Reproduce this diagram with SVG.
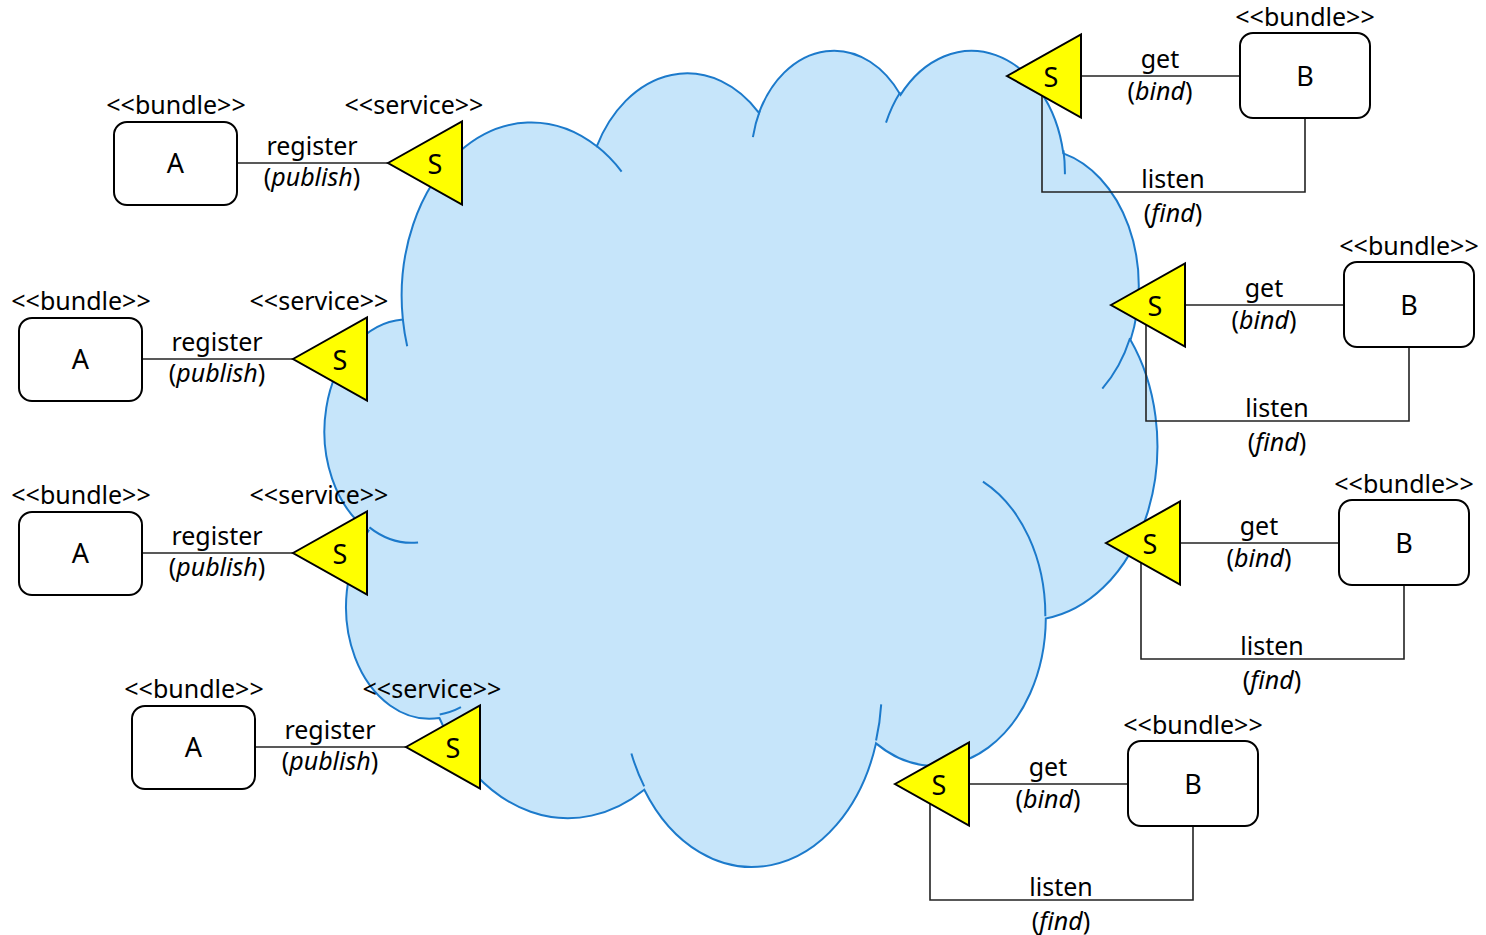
<svg xmlns="http://www.w3.org/2000/svg" width="1486" height="935" viewBox="0 0 1486 935">
<style>
text{font-family:"Noto Sans","Open Sans","Liberation Sans",sans-serif;fill:#000;text-anchor:middle}
.lbl{font-size:25px}
.big{font-size:27px}
.it{font-style:italic}
.cloud{fill:#c6e5fa;stroke:#1c7acb;stroke-width:2}
.arc{fill:none;stroke:#1c7acb;stroke-width:2}
.conn{fill:none;stroke:#222;stroke-width:1.6}
.box{fill:#fff;stroke:#000;stroke-width:2}
.tri{fill:#ffff00;stroke:#000;stroke-width:2;stroke-linejoin:miter}
</style>
<g id="cloud">
<path class="cloud" d="M402.84,319.44 A129.59,173.59 0 0 1 596.76,146.27 A102.34,137.27 0 0 1 758.95,112.86 A83.76,112.29 0 0 1 900.51,94.88 A93.21,124.57 0 0 1 1063.34,153.34 A102.34,137.38 0 0 1 1130.51,340.04 A130.01,174.16 0 0 1 1045.80,618.52 A111.01,148.60 0 0 1 876.00,743.38 A129.57,174.06 0 0 1 644.28,789.70 A148.15,199.15 0 0 1 439.41,718.01 A83.67,111.79 0 0 1 368.55,530.63 A83.38,112.29 0 0 1 402.84,319.44 Z"/>
<path class="arc" d="M418.06,542.46 A83.38,112.29 0 0 1 369.44,527.41 M460.95,707.21 A83.67,111.79 0 0 1 439.68,714.42 M644.21,786.37 A129.57,174.06 0 0 1 631.39,753.48 M881.19,704.41 A129.57,174.06 0 0 1 876.07,740.47 M982.94,481.58 A111.01,148.60 0 0 1 1045.33,616.36 M1130.10,338.02 A102.34,137.38 0 0 1 1102.31,388.57 M1063.44,150.49 A93.21,124.57 0 0 1 1064.91,174.36 M886.01,122.65 A93.21,124.57 0 0 1 900.24,92.21 M752.89,137.16 A83.76,112.29 0 0 1 759.78,110.91 M596.66,146.07 A129.59,173.59 0 0 1 621.62,171.56 M407.20,346.24 A129.59,173.59 0 0 1 402.85,319.45"/>
</g>
<g id="connectors">
<path class="conn" d="M237,163 H388"/>
<path class="conn" d="M142,359 H293"/>
<path class="conn" d="M142,553 H293"/>
<path class="conn" d="M255,747 H406"/>
<path class="conn" d="M1081,76 H1240"/>
<path class="conn" d="M1042,76 V192 H1305 V118"/>
<path class="conn" d="M1185,305 H1344"/>
<path class="conn" d="M1146,305 V421 H1409 V347"/>
<path class="conn" d="M1180,543 H1339"/>
<path class="conn" d="M1141,543 V659 H1404 V585"/>
<path class="conn" d="M969,784 H1128"/>
<path class="conn" d="M930,784 V900 H1193 V826"/>
<text class="lbl" x="312" y="155">register</text>
<text class="lbl" x="312" y="186">(<tspan class="it">publish</tspan>)</text>
<text class="lbl" x="217" y="351">register</text>
<text class="lbl" x="217" y="382">(<tspan class="it">publish</tspan>)</text>
<text class="lbl" x="217" y="545">register</text>
<text class="lbl" x="217" y="576">(<tspan class="it">publish</tspan>)</text>
<text class="lbl" x="330" y="739">register</text>
<text class="lbl" x="330" y="770">(<tspan class="it">publish</tspan>)</text>
<text class="lbl" x="1160" y="68">get</text>
<text class="lbl" x="1160" y="100">(<tspan class="it">bind</tspan>)</text>
<text class="lbl" x="1173" y="188">listen</text>
<text class="lbl" x="1173" y="222">(<tspan class="it">find</tspan>)</text>
<text class="lbl" x="1264" y="297">get</text>
<text class="lbl" x="1264" y="329">(<tspan class="it">bind</tspan>)</text>
<text class="lbl" x="1277" y="417">listen</text>
<text class="lbl" x="1277" y="451">(<tspan class="it">find</tspan>)</text>
<text class="lbl" x="1259" y="535">get</text>
<text class="lbl" x="1259" y="567">(<tspan class="it">bind</tspan>)</text>
<text class="lbl" x="1272" y="655">listen</text>
<text class="lbl" x="1272" y="689">(<tspan class="it">find</tspan>)</text>
<text class="lbl" x="1048" y="776">get</text>
<text class="lbl" x="1048" y="808">(<tspan class="it">bind</tspan>)</text>
<text class="lbl" x="1061" y="896">listen</text>
<text class="lbl" x="1061" y="930">(<tspan class="it">find</tspan>)</text>
</g>
<g id="bundleA1"><rect class="box" x="114" y="122" width="123" height="83" rx="13"/><text class="big" x="175.5" y="173">A</text><text class="lbl" x="176" y="114">&lt;&lt;bundle&gt;&gt;</text></g>
<g id="serviceA1"><polygon class="tri" points="388,163 462,121.5 462,204.5"/><text class="big" x="435" y="174">S</text><text class="lbl" x="414" y="114">&lt;&lt;service&gt;&gt;</text></g>
<g id="bundleA2"><rect class="box" x="19" y="318" width="123" height="83" rx="13"/><text class="big" x="80.5" y="369">A</text><text class="lbl" x="81" y="310">&lt;&lt;bundle&gt;&gt;</text></g>
<g id="serviceA2"><polygon class="tri" points="293,359 367,317.5 367,400.5"/><text class="big" x="340" y="370">S</text><text class="lbl" x="319" y="310">&lt;&lt;service&gt;&gt;</text></g>
<g id="bundleA3"><rect class="box" x="19" y="512" width="123" height="83" rx="13"/><text class="big" x="80.5" y="563">A</text><text class="lbl" x="81" y="504">&lt;&lt;bundle&gt;&gt;</text></g>
<g id="serviceA3"><polygon class="tri" points="293,553 367,511.5 367,594.5"/><text class="big" x="340" y="564">S</text><text class="lbl" x="319" y="504">&lt;&lt;service&gt;&gt;</text></g>
<g id="bundleA4"><rect class="box" x="132" y="706" width="123" height="83" rx="13"/><text class="big" x="193.5" y="757">A</text><text class="lbl" x="194" y="698">&lt;&lt;bundle&gt;&gt;</text></g>
<g id="serviceA4"><polygon class="tri" points="406,747 480,705.5 480,788.5"/><text class="big" x="453" y="758">S</text><text class="lbl" x="432" y="698">&lt;&lt;service&gt;&gt;</text></g>
<g id="serviceB1"><polygon class="tri" points="1007,76 1081,34.5 1081,117.5"/><text class="big" x="1051" y="87">S</text></g>
<g id="bundleB1"><rect class="box" x="1240" y="33" width="130" height="85" rx="13"/><text class="big" x="1305" y="86">B</text><text class="lbl" x="1305" y="26">&lt;&lt;bundle&gt;&gt;</text></g>
<g id="serviceB2"><polygon class="tri" points="1111,305 1185,263.5 1185,346.5"/><text class="big" x="1155" y="316">S</text></g>
<g id="bundleB2"><rect class="box" x="1344" y="262" width="130" height="85" rx="13"/><text class="big" x="1409" y="315">B</text><text class="lbl" x="1409" y="255">&lt;&lt;bundle&gt;&gt;</text></g>
<g id="serviceB3"><polygon class="tri" points="1106,543 1180,501.5 1180,584.5"/><text class="big" x="1150" y="554">S</text></g>
<g id="bundleB3"><rect class="box" x="1339" y="500" width="130" height="85" rx="13"/><text class="big" x="1404" y="553">B</text><text class="lbl" x="1404" y="493">&lt;&lt;bundle&gt;&gt;</text></g>
<g id="serviceB4"><polygon class="tri" points="895,784 969,742.5 969,825.5"/><text class="big" x="939" y="795">S</text></g>
<g id="bundleB4"><rect class="box" x="1128" y="741" width="130" height="85" rx="13"/><text class="big" x="1193" y="794">B</text><text class="lbl" x="1193" y="734">&lt;&lt;bundle&gt;&gt;</text></g>
</svg>
